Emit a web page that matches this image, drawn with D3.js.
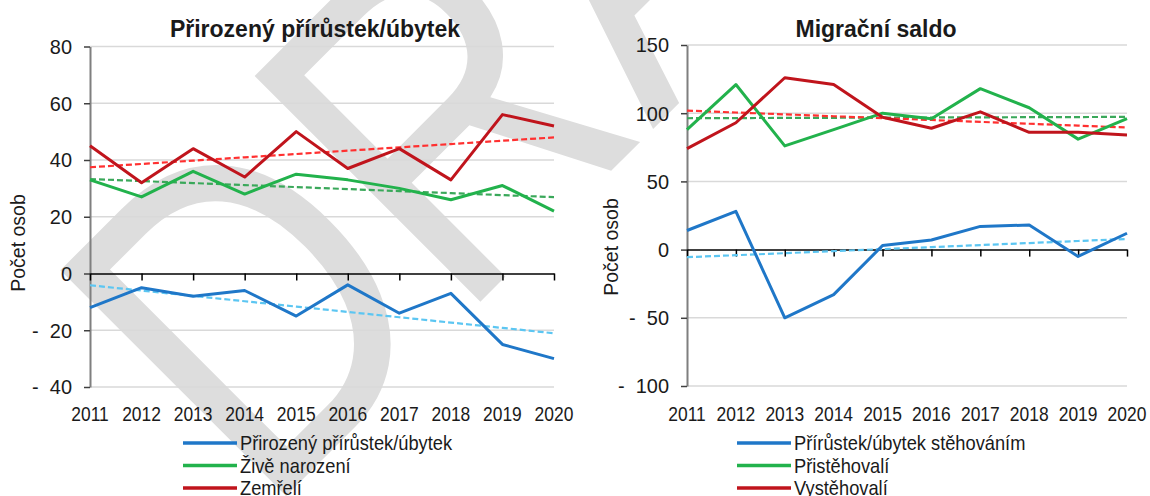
<!DOCTYPE html>
<html><head><meta charset="utf-8">
<script src="https://cdn.jsdelivr.net/npm/d3@7"></script>
<style>
body{margin:0;background:#fff}
svg{display:block}
text{font-family:"Liberation Sans","Arial",sans-serif;fill:#1a1a1a}
</style>
</head><body>
<svg id="c" width="1150" height="496"></svg>
<script>
// ---- data ----
const years = [2011,2012,2013,2014,2015,2016,2017,2018,2019,2020];
const natTitle = "Přirozený přírůstek/úbytek";
const natNames = ["Přirozený přírůstek/úbytek","Živě narození","Zemřelí"];
const natIncrease = [-12,-5,-8,-6,-15,-4,-14,-7,-25,-30];
const births = [33,27,36,28,35,33,30,26,31,22];
const deaths = [45,32,44,34,50,37,44,33,56,52];
const natTicks = [80,60,40,20,0,-20,-40];

const migTitle = "Migrační saldo";
const migNames = ["Přírůstek/úbytek stěhováním","Přistěhovalí","Vystěhovalí"];
const migBalance = [14,28,-50,-33,3,7,17,18,-5,12];
const immigrants = [88,121,76,88,100,96,118,104,81,96];
const emigrants = [74,93,126,121,97,89,101,86,86,84];
const migTicks = [150,100,50,0,-50,-100];

const yLabel = "Počet osob";
const watermark = "DRAFT";

// ---- styles ----
const lineColors = ["#1f77c8","#22b24c","#c0141c"];
const trendColors = ["#5cc6f2","#3aa85a","#ff3030"];

const svg = d3.select("#c");

// watermark (condensed, rotated)
svg.append("text")
  .attr("transform","translate(264,518) rotate(-45) scale(0.82,1)")
  .style("font-size","464px")
  .style("fill","#dddddd")
  .text(watermark);

function fmt(v){ return v < 0 ? "-\u00a0\u00a0" + Math.abs(v) : String(v); }

// text drawn with horizontal condensing
function ntext(g, x, y, str, opts){
  const sx = opts.sx || 0.85, rot = opts.rot || 0;
  const t = g.append("text")
    .attr("transform",`translate(${x},${y}) rotate(${rot}) scale(${sx},1)`)
    .attr("text-anchor", opts.anchor || "start")
    .style("font-size", (opts.size||21)+"px")
    .text(str);
  if (opts.dy) t.attr("dy", opts.dy);
  if (opts.bold) t.style("font-weight","bold").attr("fill","#000");
  return t;
}

function trend(vals){
  const n = vals.length, xs = d3.range(1,n+1);
  const mx = d3.mean(xs), my = d3.mean(vals);
  const sxy = d3.sum(xs, (x,i)=>(x-mx)*(vals[i]-my));
  const sxx = d3.sum(xs, x=>(x-mx)*(x-mx));
  const b = sxy/sxx, a = my - b*mx;
  return xs.map(x => a + b*x);
}

function chart(cfg){
  const g = svg.append("g");
  const x = d3.scalePoint().domain(years).range([cfg.x0, cfg.x1]);
  const y = d3.scaleLinear().domain(cfg.domain).range([cfg.yb, cfg.yt]);

  // gridlines
  g.append("g").selectAll("line").data(cfg.ticks.filter(t=>t!==0)).join("line")
    .attr("x1",cfg.x0).attr("x2",cfg.x1)
    .attr("y1",d=>y(d)).attr("y2",d=>y(d))
    .attr("stroke","#d9d9d9").attr("stroke-width",1.5);

  // y axis (lines from d3 axis, labels drawn condensed)
  const ya = g.append("g").attr("transform",`translate(${cfg.x0},0)`)
    .call(d3.axisLeft(y).tickValues(cfg.ticks).tickSizeInner(6).tickSizeOuter(0).tickFormat(""));
  ya.select(".domain").attr("stroke","#7f7f7f").attr("stroke-width",2);
  ya.selectAll(".tick line").attr("stroke","#404040").attr("stroke-width",1.5);
  cfg.ticks.forEach(t=>{
    ntext(g, cfg.x0-18, y(t), fmt(t), {anchor:"end", sx:0.95, dy:"0.35em"});
  });

  // zero line with category ticks
  const xa = g.append("g").attr("transform",`translate(0,${y(0)})`)
    .call(d3.axisBottom(x).tickSizeInner(7).tickSizeOuter(0).tickFormat(""));
  xa.select(".domain").attr("stroke","#000").attr("stroke-width",1.5);
  xa.selectAll(".tick line").attr("stroke","#000").attr("stroke-width",1.5);

  // x labels at the bottom
  years.forEach(yr=>{
    ntext(g, x(yr), cfg.labelY, String(yr), {anchor:"middle", sx:0.83});
  });

  // y label
  ntext(g, cfg.ylabX, cfg.ylabY, yLabel, {anchor:"middle", rot:-90, sx:0.93});

  // title
  g.append("text").attr("x",cfg.titleX).attr("y",37).attr("text-anchor","middle")
    .style("font-size","23px").style("font-weight","bold").attr("fill","#000").text(cfg.title);

  const line = d3.line().x((d,i)=>x(years[i])).y(d=>y(d));
  // trend lines
  cfg.series.forEach((s,k)=>{
    g.append("path").attr("d",line(trend(s))).attr("fill","none")
      .attr("stroke",trendColors[k]).attr("stroke-width",2.2).attr("stroke-dasharray","6,3");
  });
  // data lines
  cfg.series.forEach((s,k)=>{
    g.append("path").attr("d",line(s)).attr("fill","none")
      .attr("stroke",lineColors[k]).attr("stroke-width",3).attr("stroke-linejoin","round");
  });

  // legend
  cfg.names.forEach((nm,k)=>{
    const ly = 443 + k*22.5;
    g.append("line").attr("x1",cfg.legX).attr("x2",cfg.legX+54).attr("y1",ly).attr("y2",ly)
      .attr("stroke",lineColors[k]).attr("stroke-width",3.5);
    ntext(g, cfg.legX+57, ly, nm, {sx:0.87, dy:"0.35em"});
  });
}

chart({x0:90,x1:554,yb:387,yt:46.5,domain:[-40,80],ticks:natTicks,
  labelY:421,ylabX:25,ylabY:243,title:natTitle,titleX:315,
  series:[natIncrease,births,deaths],names:natNames,legX:183});
chart({x0:687,x1:1127,yb:386,yt:45,domain:[-100,150],ticks:migTicks,
  labelY:421,ylabX:618,ylabY:247,title:migTitle,titleX:876,
  series:[migBalance,immigrants,emigrants],names:migNames,legX:737});
</script>
</body></html>
